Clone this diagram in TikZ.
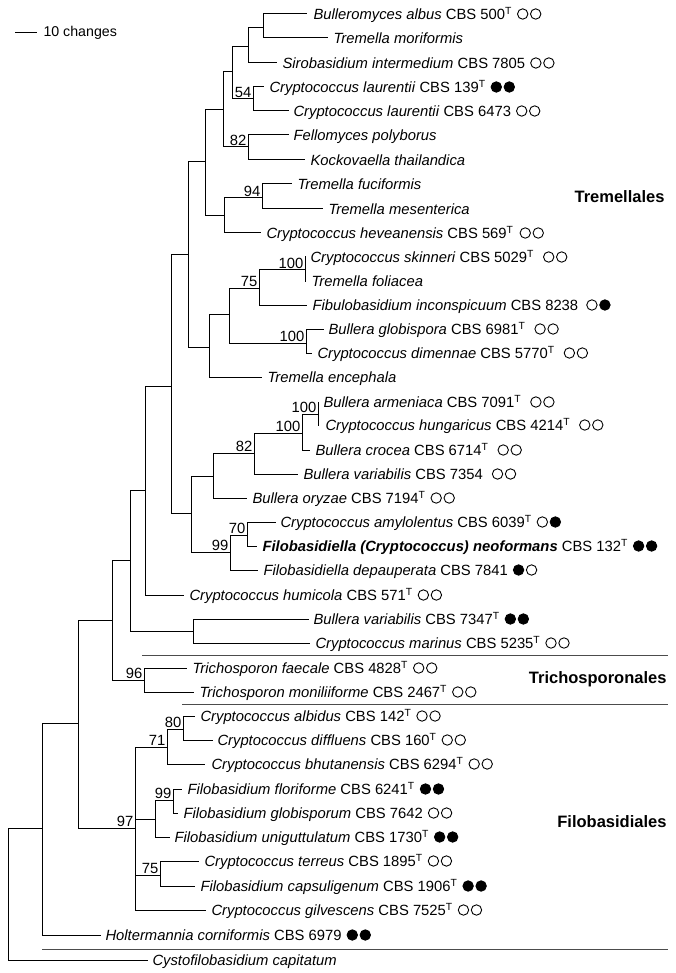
\documentclass[tikz,border=0pt]{standalone}
\usepackage{fontspec}
\setmainfont{Liberation Sans}
\newcommand\twocirc[4]{%
  \path (#1.east) ++({#2+5.2},0) coordinate (#1c1) ++(13,0) coordinate (#1c2);
  \draw[#3] (#1c1) circle[radius=5.2];
  \draw[#4] (#1c2) circle[radius=5.2];}
\newcommand\Tsup{\textsuperscript{T}}
\begin{document}
\begin{tikzpicture}[x=1pt,y=-1pt,line width=1pt,
  lab/.style={anchor=west,inner sep=0pt,text height=10.6pt,text depth=0pt,font=\fontsize{14.8}{17}\selectfont},
  bs/.style={anchor=south east,inner sep=1.2pt,font=\fontsize{14.8}{17}\selectfont},
  grp/.style={anchor=east,inner sep=0pt,font=\fontsize{16.5}{19}\selectfont\bfseries},
  oc/.style={draw,line width=0.9pt},
  fc/.style={draw,fill=black,line width=0.9pt},
  sepline/.style={line width=0.8pt,black!70}]
\useasboundingbox (0,0) rectangle (675,973);

% scale bar
\coordinate (sbA) at (15,33);
\coordinate (sbB) at (37,33);
\draw (sbA) -- (sbB);
\node[anchor=west,inner sep=0pt,font=\fontsize{14.2}{16}\selectfont] (sbl) at (43,33) {10 changes};

% tips
\coordinate (t1) at (306,14);
\coordinate (t2) at (327,38);
\coordinate (t3) at (276,63);
\coordinate (t4) at (263,87);
\coordinate (t5) at (288,111);
\coordinate (t6) at (288,135);
\coordinate (t7) at (304,160);
\coordinate (t8) at (291,184);
\coordinate (t9) at (322,209);
\coordinate (t10) at (260,233);
\coordinate (t11) at (305,257);
\coordinate (t12) at (305,281);
\coordinate (t13) at (306,305);
\coordinate (t14) at (323,329);
\coordinate (t15) at (311,353);
\coordinate (t16) at (261,377);
\coordinate (t17) at (318,402);
\coordinate (t18) at (318,425);
\coordinate (t19) at (309,450);
\coordinate (t20) at (297,474);
\coordinate (t21) at (246,498);
\coordinate (t22) at (275,522);
\coordinate (t23) at (256,546);
\coordinate (t24) at (257,570);
\coordinate (t25) at (183,595);
\coordinate (t26) at (308,619);
\coordinate (t27) at (309,643);
\coordinate (t28) at (186,668);
\coordinate (t29) at (193,692);
\coordinate (t30) at (194,716);
\coordinate (t31) at (212,740);
\coordinate (t32) at (204,764);
\coordinate (t33) at (181,789);
\coordinate (t34) at (177,813);
\coordinate (t35) at (169,837);
\coordinate (t36) at (198,861);
\coordinate (t37) at (194,886);
\coordinate (t38) at (205,910);
\coordinate (t39) at (100,935);
\coordinate (t40) at (147,960);

% internal nodes
\coordinate (a1) at (263,28);
\coordinate (a2) at (248,47);
\coordinate (a3) at (253,99);
\coordinate (a4) at (232,72);
\coordinate (a5) at (248,147);
\coordinate (a6) at (223,110);
\coordinate (a7) at (262,198);
\coordinate (a8) at (224,216);
\coordinate (a9) at (205,162);
\coordinate (a10) at (305,270);
\coordinate (a11) at (259,288);
\coordinate (a12) at (306,343);
\coordinate (a13) at (229,314);
\coordinate (a14) at (209,347);
\coordinate (a15) at (188,255);
\coordinate (a16) at (318,414);
\coordinate (a17) at (302,433);
\coordinate (a18) at (254,453);
\coordinate (a19) at (213,476);
\coordinate (a20) at (247,535);
\coordinate (a21) at (230,552);
\coordinate (a22) at (191,513);
\coordinate (a23) at (171,386);
\coordinate (a24) at (145,490);
\coordinate (a25) at (193,631);
\coordinate (a26) at (130,560);
\coordinate (a27) at (144,680);
\coordinate (a28) at (112,620);
\coordinate (a29) at (183,729);
\coordinate (a30) at (167,747);
\coordinate (a31) at (173,800);
\coordinate (a32) at (155,819);
\coordinate (a33) at (160,875);
\coordinate (a34) at (135,828);
\coordinate (a35) at (78,723);
\coordinate (a36) at (42,828);
\coordinate (root) at (8,828);

% branches
\foreach \p/\c in {a1/t1,a1/t2,a2/a1,a2/t3,a3/t4,a3/t5,a4/a2,a4/a3,a5/t6,a5/t7,
  a6/a4,a6/a5,a7/t8,a7/t9,a8/a7,a8/t10,a9/a6,a9/a8,a10/t11,a10/t12,a11/a10,a11/t13,
  a12/t14,a12/t15,a13/a11,a13/a12,a14/a13,a14/t16,a15/a9,a15/a14,a16/t17,a16/t18,
  a17/a16,a17/t19,a18/a17,a18/t20,a19/a18,a19/t21,a20/t22,a20/t23,a21/a20,a21/t24,
  a22/a19,a22/a21,a23/a15,a23/a22,a24/a23,a24/t25,a25/t26,a25/t27,a26/a24,a26/a25,
  a27/t28,a27/t29,a28/a26,a28/a27,a29/t30,a29/t31,a30/a29,a30/t32,a31/t33,a31/t34,
  a32/a31,a32/t35,a33/t36,a33/t37,a34/a30,a34/a32,a34/a33,a34/t38,a35/a28,a35/a34,
  a36/a35,a36/t39,root/a36,root/t40}
  \draw[line cap=rect] (\p) |- (\c);

% bootstrap values
\node[bs] (b1) at (a3) {54};
\node[bs] (b2) at (a5) {82};
\node[bs] (b3) at (a7) {94};
\node[bs] (b4) at (a10) {100};
\node[bs] (b5) at (a11) {75};
\node[bs] (b6) at (a12) {100};
\node[bs] (b7) at (a16) {100};
\node[bs] (b8) at (a17) {100};
\node[bs] (b9) at (a18) {82};
\node[bs] (b10) at (a20) {70};
\node[bs] (b11) at (a21) {99};
\node[bs] (b12) at (a27) {96};
\node[bs] (b13) at (a29) {80};
\node[bs] (b14) at (a30) {71};
\node[bs] (b15) at (a31) {99};
\node[bs] (b16) at (a34) {97};
\node[bs] (b17) at (a33) {75};

% labels
\node[lab] (l1) at (313,14) {\textit{Bulleromyces albus} CBS 500\Tsup};
\node[lab] (l2) at (333,38) {\textit{Tremella moriformis}};
\node[lab] (l3) at (282,63) {\textit{Sirobasidium intermedium} CBS 7805};
\node[lab] (l4) at (269,87) {\textit{Cryptococcus laurentii} CBS 139\Tsup};
\node[lab] (l5) at (293,111) {\textit{Cryptococcus laurentii} CBS 6473};
\node[lab] (l6) at (293,135) {\textit{Fellomyces polyborus}};
\node[lab] (l7) at (310,160) {\textit{Kockovaella thailandica}};
\node[lab] (l8) at (297,184) {\textit{Tremella fuciformis}};
\node[lab] (l9) at (328,209) {\textit{Tremella mesenterica}};
\node[lab] (l10) at (266,233) {\textit{Cryptococcus heveanensis} CBS 569\Tsup};
\node[lab] (l11) at (310,257) {\textit{Cryptococcus skinneri} CBS 5029\Tsup};
\node[lab] (l12) at (311,281) {\textit{Tremella foliacea}};
\node[lab] (l13) at (312,305) {\textit{Fibulobasidium inconspicuum} CBS 8238};
\node[lab] (l14) at (328,329) {\textit{Bullera globispora} CBS 6981\Tsup};
\node[lab] (l15) at (317,353) {\textit{Cryptococcus dimennae} CBS 5770\Tsup};
\node[lab] (l16) at (267,377) {\textit{Tremella encephala}};
\node[lab] (l17) at (323,402) {\textit{Bullera armeniaca} CBS 7091\Tsup};
\node[lab] (l18) at (325,425) {\textit{Cryptococcus hungaricus} CBS 4214\Tsup};
\node[lab] (l19) at (315,450) {\textit{Bullera crocea} CBS 6714\Tsup};
\node[lab] (l20) at (303,474) {\textit{Bullera variabilis} CBS 7354};
\node[lab] (l21) at (252,498) {\textit{Bullera oryzae} CBS 7194\Tsup};
\node[lab] (l22) at (280,522) {\textit{Cryptococcus amylolentus} CBS 6039\Tsup};
\node[lab] (l23) at (262,546) {\textbf{\textit{Filobasidiella (Cryptococcus) neoformans}} CBS 132\Tsup};
\node[lab] (l24) at (263,570) {\textit{Filobasidiella depauperata} CBS 7841};
\node[lab] (l25) at (189,595) {\textit{Cryptococcus humicola} CBS 571\Tsup};
\node[lab] (l26) at (313,619) {\textit{Bullera variabilis} CBS 7347\Tsup};
\node[lab] (l27) at (315,643) {\textit{Cryptococcus marinus} CBS 5235\Tsup};
\node[lab] (l28) at (192,668) {\textit{Trichosporon faecale} CBS 4828\Tsup};
\node[lab] (l29) at (199,692) {\textit{Trichosporon moniliiforme} CBS 2467\Tsup};
\node[lab] (l30) at (200,716) {\textit{Cryptococcus albidus} CBS 142\Tsup};
\node[lab] (l31) at (217,740) {\textit{Cryptococcus diffluens} CBS 160\Tsup};
\node[lab] (l32) at (211,764) {\textit{Cryptococcus bhutanensis} CBS 6294\Tsup};
\node[lab] (l33) at (187,789) {\textit{Filobasidium floriforme} CBS 6241\Tsup};
\node[lab] (l34) at (183,813) {\textit{Filobasidium globisporum} CBS 7642};
\node[lab] (l35) at (174,837) {\textit{Filobasidium uniguttulatum} CBS 1730\Tsup};
\node[lab] (l36) at (204,861) {\textit{Cryptococcus terreus} CBS 1895\Tsup};
\node[lab] (l37) at (200,886) {\textit{Filobasidium capsuligenum} CBS 1906\Tsup};
\node[lab] (l38) at (211,910) {\textit{Cryptococcus gilvescens} CBS 7525\Tsup};
\node[lab] (l39) at (105,935) {\textit{Holtermannia corniformis} CBS 6979};
\node[lab] (l40) at (152,960) {\textit{Cystofilobasidium capitatum}};

% character circles
\twocirc{l1}{5}{oc}{oc}
\twocirc{l3}{5}{oc}{oc}
\twocirc{l4}{5}{fc}{fc}
\twocirc{l5}{5}{oc}{oc}
\twocirc{l10}{6}{oc}{oc}
\twocirc{l11}{9}{oc}{oc}
\twocirc{l13}{8}{oc}{fc}
\twocirc{l14}{9}{oc}{oc}
\twocirc{l15}{9}{oc}{oc}
\twocirc{l17}{9}{oc}{oc}
\twocirc{l18}{9}{oc}{oc}
\twocirc{l19}{9}{oc}{oc}
\twocirc{l20}{9}{oc}{oc}
\twocirc{l21}{5}{oc}{oc}
\twocirc{l22}{5}{oc}{fc}
\twocirc{l23}{5}{fc}{fc}
\twocirc{l24}{5}{fc}{oc}
\twocirc{l25}{5}{oc}{oc}
\twocirc{l26}{5}{fc}{fc}
\twocirc{l27}{5}{oc}{oc}
\twocirc{l28}{5}{oc}{oc}
\twocirc{l29}{5}{oc}{oc}
\twocirc{l30}{5}{oc}{oc}
\twocirc{l31}{5}{oc}{oc}
\twocirc{l32}{5}{oc}{oc}
\twocirc{l33}{5}{fc}{fc}
\twocirc{l34}{5}{oc}{oc}
\twocirc{l35}{5}{fc}{fc}
\twocirc{l36}{5}{oc}{oc}
\twocirc{l37}{5}{fc}{fc}
\twocirc{l38}{5}{oc}{oc}
\twocirc{l39}{5}{fc}{fc}

% separators
\coordinate (s1a) at (142,655); \coordinate (s1b) at (668,655);
\coordinate (s2a) at (182,704); \coordinate (s2b) at (668,704);
\coordinate (s3a) at (42,949);  \coordinate (s3b) at (668,949);
\draw[sepline] (s1a) -- (s1b);
\draw[sepline] (s2a) -- (s2b);
\draw[sepline] (s3a) -- (s3b);

% group names
\node[grp] (gT) at (665,197) {Tremellales};
\node[grp] (gTr) at (667,679) {Trichosporonales};
\node[grp] (gF) at (667,822) {Filobasidiales};
\end{tikzpicture}
\end{document}
